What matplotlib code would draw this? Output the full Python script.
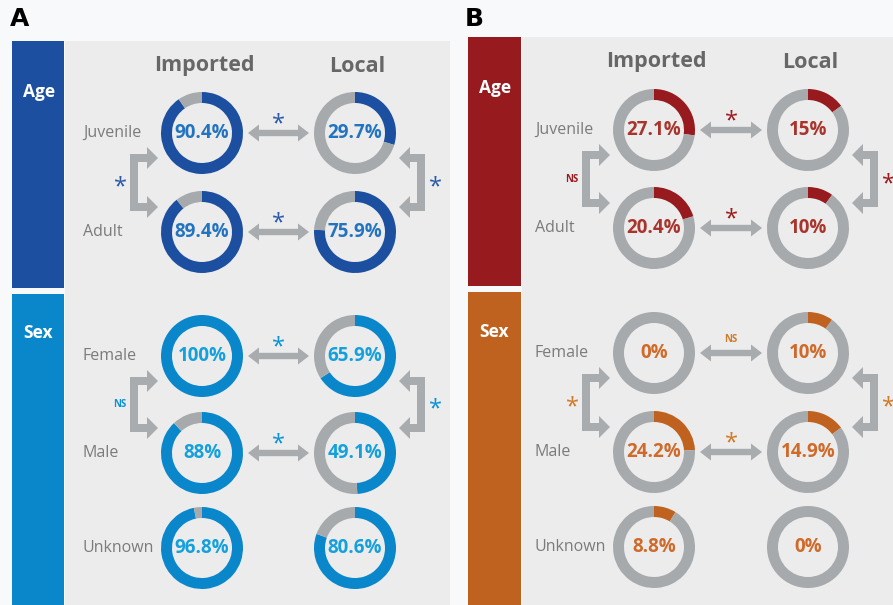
import matplotlib
matplotlib.use("Agg")
import matplotlib.pyplot as plt
from matplotlib.patches import Rectangle, Polygon

W, H = 893, 605

# ---- data -------------------------------------------------------------
group_names = ["Imported", "Local"]
age_labels = ["Juvenile", "Adult"]
sex_labels = ["Female", "Male", "Unknown"]

# Panel A
a_age_imported = [90.4, 89.4]
a_age_local = [29.7, 75.9]
a_sex_imported = [100, 88, 96.8]
a_sex_local = [65.9, 49.1, 80.6]
a_age_row_tests = ["*", "*"]          # imported vs local, per row
a_age_col_tests = ["*", "*"]          # juvenile vs adult: imported, local
a_sex_row_tests = ["*", "*"]          # female / male rows
a_sex_col_tests = ["NS", "*"]         # female vs male: imported, local

# Panel B
b_age_imported = [27.1, 20.4]
b_age_local = [15, 10]
b_sex_imported = [0, 24.2, 8.8]
b_sex_local = [10, 14.9, 0]
b_age_row_tests = ["*", "*"]
b_age_col_tests = ["NS", "*"]
b_sex_row_tests = ["NS", "*"]
b_sex_col_tests = ["*", "*"]

# ---- styling ----------------------------------------------------------
FIG_BG = "#f8f9fb"
PANEL_BG = "#ececec"
RING_GRAY = "#a6aaac"
ARROW_GRAY = "#a9acae"
LABEL_GRAY = "#7b7b7b"
HEADER_GRAY = "#676767"
FONT = ["Open Sans", "DejaVu Sans"]

plt.rcParams["font.family"] = FONT

fig = plt.figure(figsize=(W / 100, H / 100), dpi=100, facecolor=FIG_BG)
ax = fig.add_axes([0, 0, 1, 1])
ax.set_facecolor(FIG_BG)


def T(y):
    """Convert a top-down pixel row into the axes' bottom-up y."""
    return H - y


def rect(x0, y0, x1, y1, color, z=0):
    ax.add_patch(Rectangle((x0, T(y1)), x1 - x0, y1 - y0, facecolor=color,
                           edgecolor="none", zorder=z))


def donut(x, y, value, color):
    ax.pie([value, 100 - value], colors=[color, RING_GRAY], startangle=90,
           counterclock=False, radius=41, center=(x, T(y)),
           wedgeprops=dict(width=11, linewidth=0, edgecolor="none"),
           normalize=True)


def double_arrow(x0, x1, y):
    st, hh, hl = 3.2, 8.5, 11
    pts = [(x0, y), (x0 + hl, y - hh), (x0 + hl, y - st), (x1 - hl, y - st),
           (x1 - hl, y - hh), (x1, y), (x1 - hl, y + hh), (x1 - hl, y + st),
           (x0 + hl, y + st), (x0 + hl, y + hh)]
    ax.add_patch(Polygon([(px, T(py)) for px, py in pts], closed=True,
                         facecolor=ARROW_GRAY, edgecolor="none", zorder=2))


def bracket(xv, xtip, ytop, ybot):
    d = 1 if xtip > xv else -1
    t, hh, hl = 4, 11, 11
    xb = xtip - d * hl
    pts = [(xv - d * t, ytop - t), (xb, ytop - t), (xb, ytop - hh), (xtip, ytop),
           (xb, ytop + hh), (xb, ytop + t), (xv + d * t, ytop + t),
           (xv + d * t, ybot - t), (xb, ybot - t), (xb, ybot - hh), (xtip, ybot),
           (xb, ybot + hh), (xb, ybot + t), (xv - d * t, ybot + t)]
    ax.add_patch(Polygon([(px, T(py)) for px, py in pts], closed=True,
                         facecolor=ARROW_GRAY, edgecolor="none", zorder=2))


def sig(x, y, mark, color):
    if mark == "*":
        ax.text(x, T(y) - 5, "*", ha="center", va="center", fontsize=17,
                color=color)
    else:
        ax.text(x, T(y), mark, ha="center", va="center", fontsize=7,
                fontweight="bold", color=color)


def section(ix, lx, rows, labels, imp, loc, row_tests, col_tests,
            ring_c, text_c, mark_c):
    for i, (lab, y) in enumerate(zip(labels, rows)):
        ax.text(ix - 119, T(y), lab, ha="left", va="center", fontsize=11.5,
                color=LABEL_GRAY)
        for x, v in ((ix, imp[i]), (lx, loc[i])):
            donut(x, y, v, ring_c)
            ax.text(x, T(y), f"{v:g}%", ha="center", va="center",
                    fontsize=13.5, fontweight="bold", color=text_c)
    for i, mark in enumerate(row_tests):
        y = rows[i]
        double_arrow(ix + 46, lx - 46, y)
        sig((ix + lx) / 2, y - 14, mark, mark_c)
    y0, y1 = rows[0] + 25, rows[1] - 25
    bracket(ix - 68, ix - 44, y0, y1)
    bracket(lx + 66, lx + 44, y0, y1)
    sig(ix - 82, (y0 + y1) / 2, col_tests[0], mark_c)
    sig(lx + 80, (y0 + y1) / 2, col_tests[1], mark_c)


def panel(letter, lx0, bar_x0, bar_x1, gray_x1, top, age_bot, sex_top,
          ix, lx, age_rows, sex_rows, header_y, age_title_y, sex_title_y,
          age_data, sex_data, age_col, sex_col, age_txt, sex_txt):
    ax.text(lx0, T(19), letter, ha="left", va="center", fontsize=18,
            fontweight="bold", color="black", family=["DejaVu Sans"])
    rect(bar_x1 + 1, top, gray_x1, H, PANEL_BG)
    rect(bar_x0, top, bar_x1, age_bot, age_col, 1)
    rect(bar_x0, sex_top, bar_x1, H, sex_col, 1)
    ax.text(bar_x0 + 11, T(age_title_y), "Age", ha="left", va="center",
            fontsize=12.5, fontweight="bold", color="white", zorder=3)
    ax.text(bar_x0 + 11, T(sex_title_y), "Sex", ha="left", va="center",
            fontsize=12.5, fontweight="bold", color="white", zorder=3)
    ax.text(ix + 2, T(header_y), group_names[0], ha="center", va="center",
            fontsize=15.5, fontweight="bold", color=HEADER_GRAY)
    ax.text(lx + 2, T(header_y), group_names[1], ha="center", va="center",
            fontsize=15.5, fontweight="bold", color=HEADER_GRAY)
    section(ix, lx, age_rows, age_labels, *age_data, age_col, age_txt[0],
            age_txt[1])
    section(ix, lx, sex_rows, sex_labels, *sex_data, sex_col, sex_txt[0],
            sex_txt[1])


panel("A", 10, 12, 64, 450, 41, 288, 294, 202, 355,
      [133, 232], [356, 453, 548], 66, 92, 333,
      (a_age_imported, a_age_local, a_age_row_tests, a_age_col_tests),
      (a_sex_imported, a_sex_local, a_sex_row_tests, a_sex_col_tests),
      "#1c4f9f", "#0a87cb", ("#2274c0", "#2b5ba8"), ("#14a0dc", "#0c93d4"))

panel("B", 465, 468, 521, W, 37, 286, 292, 654, 808,
      [130, 228], [353, 452, 547], 62, 88, 332,
      (b_age_imported, b_age_local, b_age_row_tests, b_age_col_tests),
      (b_sex_imported, b_sex_local, b_sex_row_tests, b_sex_col_tests),
      "#961a1e", "#c0621f", ("#a8342b", "#9c1c20"), ("#cf6a2a", "#d07a2a"))

ax.set_xlim(0, W)
ax.set_ylim(0, H)
ax.set_aspect("equal")
ax.axis("off")

fig.savefig("out.png", dpi=100, facecolor=FIG_BG)
